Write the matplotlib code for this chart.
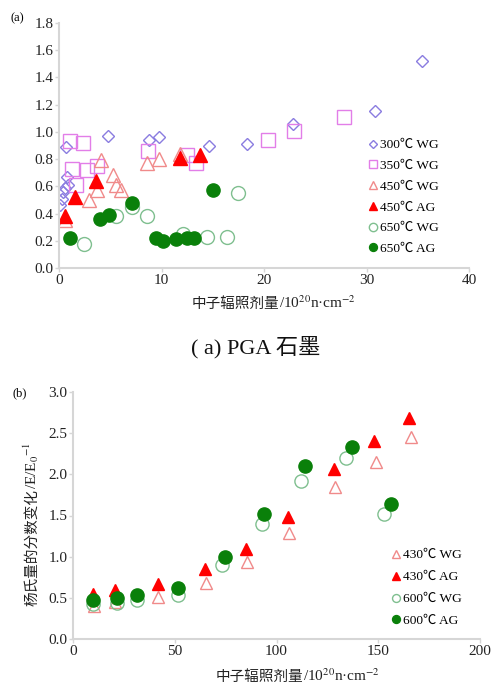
import matplotlib
matplotlib.use('Agg')
import matplotlib.pyplot as plt

plt.rcParams['font.family'] = ['Liberation Serif', 'Noto Sans CJK SC', 'DejaVu Sans']
plt.rcParams['mathtext.fontset'] = 'stix'

# ---- panel (a): PGA graphite ----
a_labels = ['300℃ WG', '350℃ WG', '450℃ WG', '450℃ AG', '650℃ WG', '650℃ AG']
a300wg_x = [0.1, 0.3, 0.4, 0.6, 0.9, 0.8, 0.7, 4.8, 8.8, 9.8, 14.6, 18.3, 22.8, 30.8, 35.4]
a300wg_y = [0.46, 0.51, 0.56, 0.59, 0.61, 0.67, 0.89, 0.97, 0.94, 0.96, 0.90, 0.91, 1.06, 1.15, 1.52]
a350wg_x = [1.1, 2.3, 1.3, 2.7, 3.7, 1.7, 8.7, 12.5, 13.4, 20.4, 22.9, 27.8]
a350wg_y = [0.93, 0.92, 0.73, 0.72, 0.75, 0.61, 0.86, 0.83, 0.77, 0.94, 1.01, 1.11]
a450wg_x = [0.6, 2.9, 3.7, 4.1, 5.3, 5.6, 6.0, 8.6, 9.8, 11.8]
a450wg_y = [0.35, 0.50, 0.57, 0.79, 0.68, 0.61, 0.57, 0.77, 0.80, 0.84]
a450ag_x = [0.6, 1.6, 3.6, 11.8, 13.8]
a450ag_y = [0.38, 0.52, 0.64, 0.81, 0.83]
a650wg_x = [2.4, 5.6, 7.1, 8.6, 12.1, 14.4, 16.4, 17.5]
a650wg_y = [0.18, 0.38, 0.45, 0.38, 0.25, 0.23, 0.23, 0.55]
a650ag_x = [1.1, 4.0, 4.9, 7.1, 9.5, 10.1, 11.4, 12.5, 13.2, 15.0]
a650ag_y = [0.22, 0.36, 0.39, 0.48, 0.22, 0.20, 0.21, 0.22, 0.22, 0.57]

# ---- panel (b) ----
b_labels = ['430℃ WG', '430℃ AG', '600℃ WG', '600℃ AG']
b430wg_x = [10.3, 20.6, 41.8, 65.4, 85.5, 106.3, 128.8, 148.9, 166.1]
b430wg_y = [0.40, 0.45, 0.51, 0.68, 0.94, 1.29, 1.85, 2.15, 2.45]
b430ag_x = [10.0, 20.6, 41.8, 65.0, 85.0, 105.8, 128.3, 148.0, 165.2]
b430ag_y = [0.55, 0.60, 0.67, 0.85, 1.09, 1.48, 2.06, 2.40, 2.69]
b600wg_x = [10.0, 21.6, 31.4, 51.6, 73.0, 93.0, 112.0, 134.0, 153.0]
b600wg_y = [0.42, 0.44, 0.47, 0.53, 0.90, 1.40, 1.92, 2.20, 1.52]
b600ag_x = [10.0, 21.5, 31.4, 51.6, 74.7, 94.0, 114.0, 137.0, 156.5]
b600ag_y = [0.47, 0.50, 0.53, 0.62, 1.00, 1.52, 2.10, 2.33, 1.64]

c_dia = '#8a7ce0'
c_sq = '#e27ee8'
c_otri = '#f08a8a'
c_ftri = '#ff0000'
c_ocir = '#7fbf8f'
c_fcir = '#0a800a'
spine_c = '#d6d6d6'
txt_c = '#222222'
cjk = ['Noto Sans CJK SC', 'DejaVu Sans']


def style_axes(ax):
    for s in ['top', 'right']:
        ax.spines[s].set_visible(False)
    for s in ['left', 'bottom']:
        ax.spines[s].set_color(spine_c)
        ax.spines[s].set_linewidth(1.5)
    ax.tick_params(colors=spine_c, labelcolor=txt_c, labelsize=11,
                   length=3, width=1, direction='out', pad=1)


fig = plt.figure(figsize=(4.92, 6.86), dpi=100)

# panel (a)
ax1 = fig.add_axes([59 / 492, 1 - 268 / 686, 410 / 492, 245 / 686])
ax1.plot(a300wg_x, a300wg_y, 'D', ms=6.4, mfc='none', mec=c_dia, mew=1, label=a_labels[0])
ax1.plot(a350wg_x, a350wg_y, 's', ms=10, mfc='none', mec=c_sq, mew=1, label=a_labels[1])
ax1.plot(a450wg_x, a450wg_y, '^', ms=9.5, mfc='none', mec=c_otri, mew=1, label=a_labels[2])
ax1.plot(a450ag_x, a450ag_y, '^', ms=9.5, color=c_ftri, label=a_labels[3])
ax1.plot(a650wg_x, a650wg_y, 'o', ms=10, mfc='none', mec=c_ocir, mew=1, label=a_labels[4])
ax1.plot(a650ag_x, a650ag_y, 'o', ms=9.5, color=c_fcir, label=a_labels[5])
ax1.set_xlim(0, 40)
ax1.set_ylim(0, 1.8)
ax1.set_xticks([0, 10, 20, 30, 40])
ax1.set_yticks([0.0, 0.2, 0.4, 0.6, 0.8, 1.0, 1.2, 1.4, 1.6, 1.8])
ax1.set_yticklabels(['%.1f' % v for v in ax1.get_yticks()])
style_axes(ax1)
ax1.legend(loc='upper left', bbox_to_anchor=(369 / 492, 1 - 139 / 686),
           bbox_transform=fig.transFigure, frameon=False, fontsize=9.6,
           markerscale=0.6, handlelength=0.6, handletextpad=0.2,
           labelspacing=0.63, borderpad=0, borderaxespad=0)

# panel (b)
ax2 = fig.add_axes([73 / 492, 1 - 639 / 686, 407 / 492, 247 / 686])
ax2.plot(b430wg_x, b430wg_y, '^', ms=9, mfc='none', mec=c_otri, mew=1, label=b_labels[0])
ax2.plot(b430ag_x, b430ag_y, '^', ms=9, color=c_ftri, label=b_labels[1])
ax2.plot(b600wg_x, b600wg_y, 'o', ms=9.5, mfc='none', mec=c_ocir, mew=1, label=b_labels[2])
ax2.plot(b600ag_x, b600ag_y, 'o', ms=9.5, color=c_fcir, label=b_labels[3])
ax2.set_xlim(0, 200)
ax2.set_ylim(0, 3.0)
ax2.set_xticks([0, 50, 100, 150, 200])
ax2.set_yticks([0.0, 0.5, 1.0, 1.5, 2.0, 2.5, 3.0])
ax2.set_yticklabels(['%.1f' % v for v in ax2.get_yticks()])
style_axes(ax2)
ax2.legend(loc='upper left', bbox_to_anchor=(392 / 492, 1 - 549 / 686),
           bbox_transform=fig.transFigure, frameon=False, fontsize=9.6,
           markerscale=0.6, handlelength=0.6, handletextpad=0.2,
           labelspacing=0.72, borderpad=0, borderaxespad=0)

# axis titles: chinese part and unit part drawn side by side
x_cn = '中子辐照剂量'
x_unit = '/10$^{20}$n·cm$^{-2}$'
y_cn = '杨氏量的分数变化'
y_unit = '/E/E$_0$$^{-1}$'

fig.text(279 / 492, 1 - 304 / 686, x_cn, fontsize=10.5, family=cjk,
         ha='right', va='center', color=txt_c)
fig.text(279 / 492, 1 - 303 / 686, x_unit, fontsize=11, ha='left', va='center', color=txt_c)
fig.text(303 / 492, 1 - 677 / 686, x_cn, fontsize=10.5, family=cjk,
         ha='right', va='center', color=txt_c)
fig.text(303 / 492, 1 - 676 / 686, x_unit, fontsize=11, ha='left', va='center', color=txt_c)

fig.text(32 / 492, 1 - 489 / 686, y_cn, fontsize=10.5, family=cjk, rotation=90,
         ha='center', va='top', color=txt_c)
fig.text(31 / 492, 1 - 489 / 686, y_unit, fontsize=11, rotation=90,
         ha='center', va='bottom', color=txt_c)

fig.text(256 / 492, 1 - 347 / 686, '( a) PGA 石墨', fontsize=16, ha='center', va='center', color='#111111')
fig.text(17 / 492, 1 - 18 / 686, '(a)', fontsize=9, ha='center', va='center')
fig.text(20 / 492, 1 - 393 / 686, '(b)', fontsize=9, ha='center', va='center')

fig.savefig('out.png', dpi=100)
